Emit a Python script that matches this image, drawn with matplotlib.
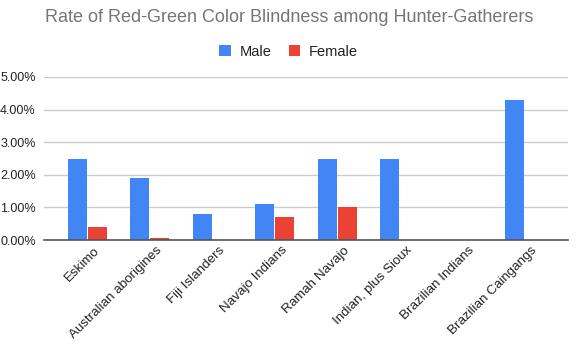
import matplotlib.pyplot as plt
import numpy as np
from matplotlib.ticker import PercentFormatter

plt.rcParams['font.family'] = ['Liberation Sans', 'DejaVu Sans']

groups = ["Eskimo", "Australian aborigines", "Fiji Islanders", "Navajo Indians",
          "Ramah Navajo", "Indian, plus Sioux", "Brazilian Indians", "Brazilian Caingangs"]
male = [2.5, 1.9, 0.8, 1.1, 2.5, 2.5, 0.0, 4.3]
female = [0.4, 0.05, 0.0, 0.7, 1.0, 0.0, 0.0, 0.0]

fig = plt.figure(figsize=(5.77, 3.45), dpi=100)
ax = fig.add_axes([0.0763, 0.304, 0.908, 0.473])

x = np.arange(len(groups))
w = 0.3
ax.bar(x - w/2 - 0.01, male, w, color="#4285F4", label="Male", zorder=3)
ax.bar(x + w/2 + 0.01, female, w, color="#EA4335", label="Female", zorder=3)

ax.set_xlim(-0.69, len(groups) - 0.31)
ax.set_ylim(0, 5)
ax.set_yticks([0, 1, 2, 3, 4, 5])
ax.yaxis.set_major_formatter(PercentFormatter(decimals=2))
ax.grid(axis="y", color="#cccccc", linewidth=1, zorder=0)
for s in ["top", "right", "left"]:
    ax.spines[s].set_visible(False)
ax.spines["bottom"].set_color("#555555")
ax.spines["bottom"].set_linewidth(1.2)
ax.spines["bottom"].set_zorder(4)
ax.tick_params(axis="both", length=0, labelsize=9, colors="#222222")
ax.tick_params(axis="y", pad=6)
ax.tick_params(axis="x", pad=3)
ax.set_xticks(x + 0.1)
ax.set_xticklabels(groups, rotation=45, ha="right", rotation_mode="anchor", fontsize=9.6)

fig.suptitle("Rate of Red-Green Color Blindness among Hunter-Gatherers",
             x=0.502, y=0.975, fontsize=13, color="#757575")
fig.legend(loc="center", bbox_to_anchor=(0.5, 0.85), ncol=2, frameon=False,
           fontsize=10.5, handlelength=0.8, handleheight=0.8, handletextpad=0.6,
           columnspacing=1.2, labelcolor="#222222")

fig.savefig("out.png", dpi=100)
